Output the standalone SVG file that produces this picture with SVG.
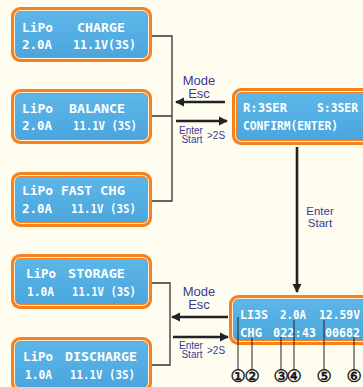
<svg xmlns="http://www.w3.org/2000/svg" width="363" height="387" viewBox="0 0 363 387">
<defs>
<linearGradient id="lcd" x1="0" y1="0" x2="0" y2="1">
<stop offset="0" stop-color="#5DB6E8"/>
<stop offset="1" stop-color="#4AA6DD"/>
</linearGradient>
<marker id="ah" viewBox="0 0 10 10" refX="9" refY="5" markerWidth="3.6" markerHeight="3.6" orient="auto" markerUnits="strokeWidth">
<path d="M0,0 L10,5 L0,10 Z" fill="#222"/>
</marker>
</defs>
<style>
.o{fill:#F5821F}
.w{fill:none;stroke:#FFF3E0;stroke-width:1}
.b{fill:url(#lcd)}
.t{font-family:"DejaVu Sans Mono",monospace;font-weight:bold;font-size:13px;fill:#fff}
.lab{font-family:"Liberation Sans",Arial,sans-serif;fill:#3B3B95}
.br{fill:none;stroke:#333;stroke-width:1.3}
.ar{fill:none;stroke:#222;stroke-width:2.6;marker-end:url(#ah)}
.cl{stroke:#222;stroke-width:1}
.num{font-family:"DejaVu Sans",sans-serif;font-size:17px;fill:#111;stroke:#111;stroke-width:0.5;text-anchor:middle}
</style>
<rect width="363" height="387" fill="#FFFDEF"/>

<g id="charge">
<rect class="o" x="11" y="7" width="141" height="55" rx="9"/>
<rect class="w" x="14.5" y="10.5" width="134" height="48" rx="6"/>
<rect class="b" x="16" y="12" width="131" height="45" rx="4"/>
<text class="t" x="22" y="32" textLength="31" lengthAdjust="spacingAndGlyphs">LiPo</text>
<text class="t" x="77" y="32" textLength="48" lengthAdjust="spacingAndGlyphs">CHARGE</text>
<text class="t" x="22" y="49" textLength="30" lengthAdjust="spacingAndGlyphs">2.0A</text>
<text class="t" x="73" y="49" textLength="63" lengthAdjust="spacingAndGlyphs">11.1V(3S)</text>
</g>

<g id="balance">
<rect class="o" x="11" y="89" width="141" height="55" rx="9"/>
<rect class="w" x="14.5" y="92.5" width="134" height="48" rx="6"/>
<rect class="b" x="16" y="94" width="131" height="45" rx="4"/>
<text class="t" x="22" y="113" textLength="31" lengthAdjust="spacingAndGlyphs">LiPo</text>
<text class="t" x="69" y="113" textLength="56" lengthAdjust="spacingAndGlyphs">BALANCE</text>
<text class="t" x="22" y="130" textLength="30" lengthAdjust="spacingAndGlyphs">2.0A</text>
<text class="t" x="73" y="130" textLength="64" lengthAdjust="spacingAndGlyphs">11.1V (3S)</text>
</g>

<g id="fastchg">
<rect class="o" x="11" y="172" width="141" height="55" rx="9"/>
<rect class="w" x="14.5" y="175.5" width="134" height="48" rx="6"/>
<rect class="b" x="16" y="177" width="131" height="45" rx="4"/>
<text class="t" x="22" y="195" textLength="31" lengthAdjust="spacingAndGlyphs">LiPo</text>
<text class="t" x="61" y="195" textLength="31" lengthAdjust="spacingAndGlyphs">FAST</text>
<text class="t" x="100" y="195" textLength="25" lengthAdjust="spacingAndGlyphs">CHG</text>
<text class="t" x="22" y="213" textLength="30" lengthAdjust="spacingAndGlyphs">2.0A</text>
<text class="t" x="71" y="213" textLength="65" lengthAdjust="spacingAndGlyphs">11.1V (3S)</text>
</g>

<g id="storage">
<rect class="o" x="11" y="254" width="141" height="55" rx="9"/>
<rect class="w" x="14.5" y="257.5" width="134" height="48" rx="6"/>
<rect class="b" x="16" y="259" width="131" height="45" rx="4"/>
<text class="t" x="26" y="278" textLength="30" lengthAdjust="spacingAndGlyphs">LiPo</text>
<text class="t" x="68" y="278" textLength="57" lengthAdjust="spacingAndGlyphs">STORAGE</text>
<text class="t" x="27" y="296" textLength="27" lengthAdjust="spacingAndGlyphs">1.0A</text>
<text class="t" x="72" y="296" textLength="64" lengthAdjust="spacingAndGlyphs">11.1V (3S)</text>
</g>

<g id="discharge">
<rect class="o" x="11" y="337" width="141" height="55" rx="9"/>
<rect class="w" x="14.5" y="340.5" width="134" height="48" rx="6"/>
<rect class="b" x="16" y="342" width="131" height="45" rx="4"/>
<text class="t" x="23" y="361" textLength="30" lengthAdjust="spacingAndGlyphs">LiPo</text>
<text class="t" x="65" y="361" textLength="72" lengthAdjust="spacingAndGlyphs">DISCHARGE</text>
<text class="t" x="25" y="379" textLength="27" lengthAdjust="spacingAndGlyphs">1.0A</text>
<text class="t" x="70" y="379" textLength="65" lengthAdjust="spacingAndGlyphs">11.1V (3S)</text>
</g>

<g id="confirm">
<rect class="o" x="232" y="88" width="150" height="57" rx="9"/>
<rect class="w" x="235.5" y="91.5" width="143" height="50" rx="6"/>
<rect class="b" x="237" y="93" width="140" height="47" rx="4"/>
<text class="t" x="243" y="112" textLength="44" lengthAdjust="spacingAndGlyphs">R:3SER</text>
<text class="t" x="317" y="112" textLength="41" lengthAdjust="spacingAndGlyphs">S:3SER</text>
<text class="t" x="243" y="130" textLength="95" lengthAdjust="spacingAndGlyphs">CONFIRM(ENTER)</text>
</g>

<g id="status">
<rect class="o" x="229" y="295" width="150" height="50" rx="9"/>
<rect class="w" x="232.5" y="298.5" width="143" height="43" rx="6"/>
<rect class="b" x="234" y="300" width="140" height="40" rx="4"/>
<text class="t" x="240" y="319" textLength="28" lengthAdjust="spacingAndGlyphs">LI3S</text>
<text class="t" x="280" y="319" textLength="26" lengthAdjust="spacingAndGlyphs">2.0A</text>
<text class="t" x="319" y="319" textLength="41" lengthAdjust="spacingAndGlyphs">12.59V</text>
<text class="t" x="240" y="337" textLength="22" lengthAdjust="spacingAndGlyphs">CHG</text>
<text class="t" x="273" y="337" textLength="43" lengthAdjust="spacingAndGlyphs">022:43</text>
<text class="t" x="325" y="337" textLength="35" lengthAdjust="spacingAndGlyphs">00682</text>
</g>

<g id="connectors">
<path class="br" d="M152,36 H172 V201 H152 M152,116 H172"/>
<path class="br" d="M152,283 H170 V365 H152"/>
<line class="ar" x1="225" y1="102" x2="176" y2="102"/>
<line class="ar" x1="176" y1="121" x2="227" y2="121"/>
<line class="ar" x1="228" y1="317" x2="172" y2="317"/>
<line class="ar" x1="173" y1="337" x2="228" y2="337"/>
<line class="ar" x1="297" y1="147" x2="297" y2="292"/>
<line class="cl" x1="238" y1="317" x2="238" y2="370"/>
<line class="cl" x1="252" y1="338" x2="252" y2="370"/>
<line class="cl" x1="281" y1="337" x2="281" y2="370"/>
<line class="cl" x1="294" y1="320" x2="294" y2="370"/>
<line class="cl" x1="324" y1="320" x2="324" y2="370"/>
<line class="cl" x1="354" y1="337" x2="354" y2="370"/>
</g>

<g id="labels">
<text class="lab" x="199" y="85" font-size="13" text-anchor="middle">Mode</text>
<text class="lab" x="199" y="98" font-size="13" text-anchor="middle">Esc</text>
<text class="lab" x="191" y="134" font-size="10" text-anchor="middle">Enter</text>
<text class="lab" x="192" y="143" font-size="10" text-anchor="middle">Start</text>
<text class="lab" x="207" y="139" font-size="10">&gt;2S</text>
<text class="lab" x="199" y="296" font-size="13" text-anchor="middle">Mode</text>
<text class="lab" x="199" y="309" font-size="13" text-anchor="middle">Esc</text>
<text class="lab" x="191" y="349" font-size="10" text-anchor="middle">Enter</text>
<text class="lab" x="192" y="358" font-size="10" text-anchor="middle">Start</text>
<text class="lab" x="207" y="354" font-size="10">&gt;2S</text>
<text class="lab" x="320" y="215" font-size="11.5" text-anchor="middle">Enter</text>
<text class="lab" x="320" y="227" font-size="11.5" text-anchor="middle">Start</text>
<text class="num" x="238" y="382">①</text>
<text class="num" x="252" y="382">②</text>
<text class="num" x="281" y="382">③</text>
<text class="num" x="294" y="382">④</text>
<text class="num" x="324" y="382">⑤</text>
<text class="num" x="354" y="382">⑥</text>
</g>
</svg>
